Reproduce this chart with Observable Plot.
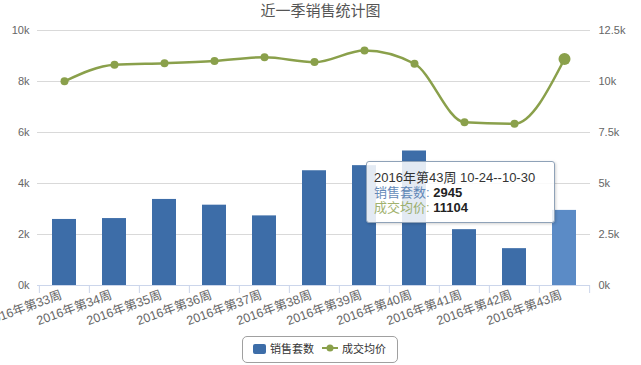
<!DOCTYPE html>
<html>
<head>
<meta charset="utf-8">
<script src="https://cdn.jsdelivr.net/npm/d3@7"></script>
<script src="https://cdn.jsdelivr.net/npm/@observablehq/plot@0.6"></script>
<style>
  html, body { margin: 0; padding: 0; background: #fff; }
  #wrap { position: relative; width: 641px; height: 365px; overflow: hidden;
    font-family: "Liberation Sans", "Noto Sans CJK SC", sans-serif; }
  #title { height: 22px; line-height: 22px; text-align: center; font-size: 15px; color: #555; padding-left: 0px; }
  #legend { position: absolute; left: 242px; top: 336px; width: 154px; height: 25px;
    border: 1px solid #a0a0a0; border-radius: 5px; font-size: 11px; color: #333; }
  #legend .item { position: absolute; top: 0; height: 25px; line-height: 25px; white-space: nowrap; }
  #tip { position: absolute; left: 366px; top: 161px; width: 173px; height: 45px;
    padding: 8px 7px 7px 7px; background: rgba(255,255,255,0.86); border: 1px solid #8fa2b8;
    border-radius: 3px; box-shadow: 1px 1px 3px rgba(0,0,0,0.18); font-size: 13px; line-height: 15px; color: #333; white-space: nowrap; }
  #tip b { font-weight: bold; color: #222; }
</style>
</head>
<body>
<div id="wrap">
  <div id="title"></div>
  <div id="chart"></div>
  <div id="legend"></div>
  <div id="tip"></div>
</div>
<script>
const title = "近一季销售统计图";
const weeks = ["2016年第33周", "2016年第34周", "2016年第35周", "2016年第36周", "2016年第37周", "2016年第38周",
               "2016年第39周", "2016年第40周", "2016年第41周", "2016年第42周", "2016年第43周"];
const sales = [2590, 2625, 3375, 3150, 2730, 4500, 4700, 5275, 2190, 1445, 2945];
const prices = [10010, 10820, 10900, 11010, 11190, 10950, 11520, 10870, 8000, 7930, 11104];
const leftTicks = [0, 2000, 4000, 6000, 8000, 10000];
const rightTicks = [0, 2500, 5000, 7500, 10000, 12500];
const seriesNames = ["销售套数", "成交均价"];
const tipHeader = "2016年第43周 10-24--10-30";
const hoverIndex = 10;

const barColor = "#3d6da8";
const barHover = "#5b8bc6";
const lineColor = "#8aa04b";

const k = 10000 / 12500; // right axis -> left axis units
const data = weeks.map((w, i) => ({week: w, sales: sales[i], price: prices[i], hi: i === hoverIndex}));
const fmtK = v => (Math.round(v / 100) / 10) + "k";

const W = 641, H = 310, mL = 37, mR = 51, mT = 8, mB = 47;
const step = (W - mL - mR) / weeks.length;

document.getElementById("title").textContent = title;

const chart = Plot.plot({
  width: W, height: H,
  marginTop: mT, marginBottom: mB, marginLeft: mL, marginRight: mR,
  style: {fontFamily: '"Liberation Sans", "Noto Sans CJK SC", sans-serif', fontSize: "11px", color: "#666", background: "transparent", overflow: "visible"},
  x: {domain: weeks, paddingInner: 0.53, paddingOuter: 0.265, label: null},
  y: {domain: [0, 10000], label: null},
  marks: [
    Plot.gridY(leftTicks, {stroke: "#d9d9d9", strokeOpacity: 1}),
    Plot.ruleY([0], {stroke: "#ccd6eb"}),
    Plot.barY(data.filter(d => !d.hi), {x: "week", y: "sales", fill: barColor}),
    Plot.barY(data.filter(d => d.hi), {x: "week", y: "sales", fill: barHover}),
    Plot.ruleX(weeks, {x: d => d, y1: 0, y2: 0, insetBottom: -8, dx: -step / 2, stroke: "#ccd6eb"}),
    Plot.ruleX([weeks[weeks.length - 1]], {x: d => d, y1: 0, y2: 0, insetBottom: -8, dx: step / 2, stroke: "#ccd6eb"}),
    Plot.axisY(leftTicks, {anchor: "left", tickSize: 0, tickPadding: 8, tickFormat: fmtK, label: null, fontSize: 11, fill: "#666"}),
    Plot.axisY(rightTicks.map(v => v * k), {anchor: "right", tickSize: 0, tickPadding: 8, tickFormat: d => fmtK(d / k), label: null, fontSize: 11, fill: "#666"}),
    Plot.axisX({tickRotate: -20, tickSize: 0, tickPadding: 9, textAnchor: "end", dx: -3, label: null, fontSize: 12.5, fill: "#666"}),
    Plot.line(data, {x: "week", y: d => d.price * k, curve: "monotone-x", stroke: lineColor, strokeWidth: 2.5}),
    Plot.dot(data.filter(d => !d.hi), {x: "week", y: d => d.price * k, r: 4, fill: lineColor, stroke: null}),
    Plot.dot(data.filter(d => d.hi), {x: "week", y: d => d.price * k, r: 6, fill: lineColor, stroke: null})
  ]
});
document.getElementById("chart").appendChild(chart);

// legend
const legend = document.getElementById("legend");
legend.innerHTML =
  `<div class="item" style="left:10px"><span style="display:inline-block;width:13px;height:10px;background:${barColor};border-radius:2px;vertical-align:-1px;margin-right:4px"></span>${seriesNames[0]}</div>` +
  `<div class="item" style="left:79px"><svg width="16" height="10" style="vertical-align:0px;margin-right:4px"><line x1="0" x2="16" y1="5" y2="5" stroke="${lineColor}" stroke-width="2"/><circle cx="8" cy="5" r="3.5" fill="${lineColor}"/></svg>${seriesNames[1]}</div>`;

// tooltip
const tip = document.getElementById("tip");
tip.innerHTML =
  `<div>${tipHeader}</div>` +
  `<div><span style="color:${barColor};opacity:0.8">${seriesNames[0]}:</span> <b>${sales[hoverIndex]}</b></div>` +
  `<div><span style="color:${lineColor};opacity:0.8">${seriesNames[1]}:</span> <b>${prices[hoverIndex]}</b></div>`;
</script>
</body>
</html>
